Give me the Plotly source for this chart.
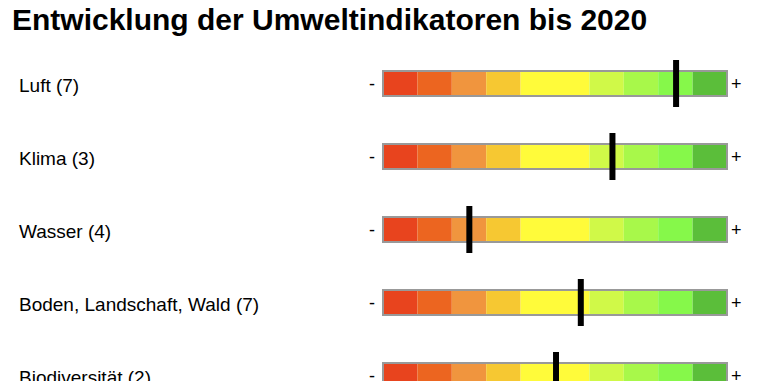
import plotly.graph_objects as go

# ---- data ----
categories = ["Luft", "Klima", "Wasser", "Boden, Landschaft, Wald", "Biodiversität"]
indicator_counts = [7, 3, 4, 7, 2]
scores = [8.52, 6.67, 2.51, 5.75, 5.03]          # position of marker on 0..10 scale
segment_colors = ["#E8441E", "#EC6520", "#F0953E", "#F6C832", "#FFFB3A",
                  "#FFFB3A", "#D0F948", "#A8F84A", "#86F84A", "#5BBE3A"]
title_text = "Entwicklung der Umweltindikatoren bis 2020"

OFF = 8                      # default page body margin
W, H = 761 - OFF, 381 - OFF
n = len(categories)
rows = list(range(n))
labels = [f"{c} ({k})" for c, k in zip(categories, indicator_counts)]

fig = go.Figure()

# colour segments
for k, col in enumerate(segment_colors):
    fig.add_trace(go.Bar(
        orientation="h", y=rows, x=[1] * n, base=[k] * n,
        marker=dict(color=col, line=dict(width=0)),
        width=0.342, showlegend=False, hoverinfo="skip"))

# outline
fig.add_trace(go.Bar(
    orientation="h", y=rows, x=[len(segment_colors)] * n, base=[0] * n,
    marker=dict(color="rgba(0,0,0,0)", line=dict(color="#999999", width=2)),
    width=0.342, showlegend=False, hoverinfo="skip"))

# score markers
for r, v in zip(rows, scores):
    fig.add_trace(go.Scatter(
        x=[v, v], y=[r - 0.322, r + 0.322], mode="lines",
        line=dict(color="black", width=6), showlegend=False, hoverinfo="skip"))

font_family = "Liberation Sans, Arial, sans-serif"
ann = []
for r, lab in zip(rows, labels):
    ann.append(dict(x=(17 - OFF) / W, xref="paper", y=r, yref="y", text=lab, showarrow=False,
                    xanchor="left", yanchor="middle", yshift=-2,
                    font=dict(size=19, color="black", family=font_family)))
    ann.append(dict(x=-0.32, xref="x", y=r, yref="y", text="-", showarrow=False,
                    xanchor="center", yanchor="middle",
                    font=dict(size=18, color="black", family=font_family)))
    ann.append(dict(x=10.27, xref="x", y=r, yref="y", text="+", showarrow=False,
                    xanchor="center", yanchor="middle",
                    font=dict(size=18, color="black", family=font_family)))

scale = 34.4
x0 = 383 - OFF
y0 = 83.5 - OFF
fig.update_layout(
    width=W, height=H,
    margin=dict(l=0, r=0, t=0, b=0),
    barmode="overlay",
    plot_bgcolor="white", paper_bgcolor="white",
    title=dict(text="<b>" + title_text + "</b>", x=(12 - OFF) / W, xanchor="left",
               y=1 - (19 - OFF) / H, yanchor="middle", yref="container",
               font=dict(size=30, color="black", family=font_family)),
    xaxis=dict(range=[-x0 / scale, (W - x0) / scale], visible=False, fixedrange=True),
    yaxis=dict(range=[(H - y0) / 73, -y0 / 73], visible=False, fixedrange=True),
    annotations=ann,
)

fig.write_html("out.html")
